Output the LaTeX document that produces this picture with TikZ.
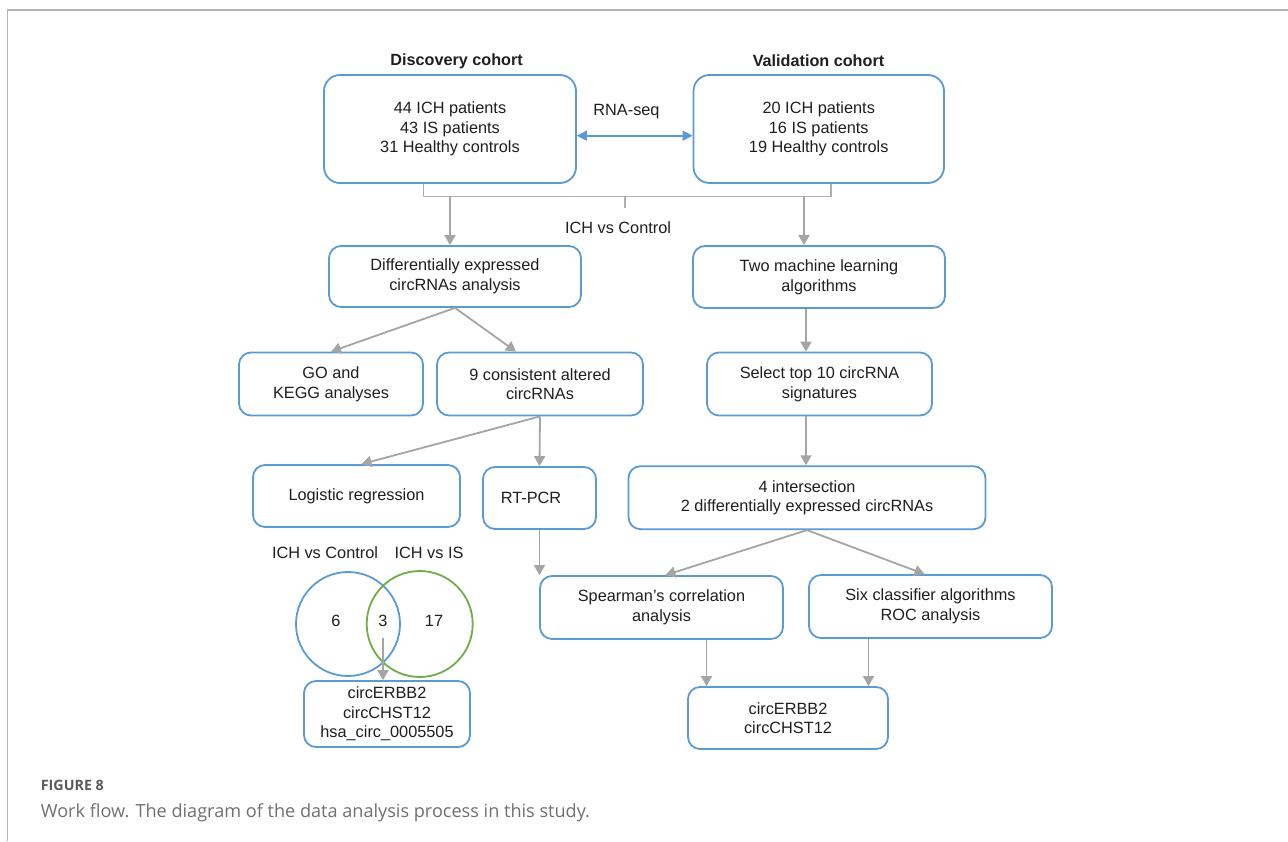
\documentclass[tikz,border=0pt]{standalone}
\usepackage{fontspec}
\setmainfont{Liberation Sans}
\newfontfamily\capfont{Open Sans}
\usetikzlibrary{arrows.meta,calc}
\definecolor{boxblue}{HTML}{5B9BD5}
\definecolor{arrgray}{HTML}{A5A5A5}
\definecolor{bracegray}{HTML}{B0B0B0}
\definecolor{venngreen}{HTML}{70AD47}
\definecolor{txt}{HTML}{1F1F1F}
\definecolor{framegray}{HTML}{B4B4B4}
\definecolor{capgray}{HTML}{707070}
\definecolor{capdark}{HTML}{5A5A5A}
\begin{document}
\begin{tikzpicture}[x=1pt,y=-1pt,
  box/.style={draw=boxblue, line width=1.8pt, rounded corners=12pt, align=center, inner sep=0pt, text=txt, font=\fontsize{16.3}{19.6}\selectfont},
  bigbox/.style={box, rounded corners=16pt},
  arr/.style={draw=arrgray, line width=1.8pt, -{Triangle[length=10pt,width=11pt]}},
  dblarr/.style={draw=boxblue, line width=1.8pt, {Triangle[length=10pt,width=10pt]}-{Triangle[length=10pt,width=10pt]}},
  lbl/.style={text=txt, font=\fontsize{16.3}{19.6}\selectfont, inner sep=0pt},
  ttl/.style={text=txt, font=\fontsize{16.2}{19.5}\selectfont\bfseries, inner sep=0pt},
  brace/.style={draw=bracegray, line width=1.5pt},
  venn/.style={circle, line width=1.8pt, inner sep=0pt},
]
\useasboundingbox (0,0) rectangle (1288,841);
\fill[white] (0,0) rectangle (1288,841);
\draw[framegray, line width=1.3pt] (7.3,841) -- (7.3,10) -- (1288,10);

% titles
\node[ttl] (t1) at (456.6,61) {Discovery cohort};
\node[ttl] (t2) at (818.5,61) {Validation cohort};

% cohort boxes
\node[bigbox, minimum width=252pt, minimum height=108pt] (D1) at (450,129) {44 ICH patients\\43 IS patients\\31 Healthy controls};
\node[bigbox, minimum width=250.5pt, minimum height=108pt] (V1) at (818.75,129) {20 ICH patients\\16 IS patients\\19 Healthy controls};
\node[lbl] (rs) at (626.5,111.7) {RNA-seq};
\draw[dblarr] ([yshift=-6.7pt]D1.east) -- ([yshift=-6.7pt]V1.west);

% bracket
\coordinate (bl) at (423.3,196.7);
\coordinate (br) at (831,196.7);
\coordinate (bm) at (625,196.7);
\coordinate (ba) at (450,196.7);
\coordinate (bb) at (804,196.7);
\draw[brace] (D1.south -| bl) -- (bl) -- (br) -- (V1.south -| br);
\draw[brace] (bm) -- ++(0,11);
\node[lbl] (ic) at (618,228) {ICH vs Control};

% second row
\node[box, minimum width=252pt, minimum height=61pt] (D2) at (455,276.5) {Differentially expressed\\circRNAs analysis};
\node[box, minimum width=252pt, minimum height=62pt] (V2) at (819,277) {Two machine learning\\algorithms};
\draw[arr] (ba) -- (ba |- D2.north);
\draw[arr] (bb) -- (bb |- V2.north);

% third row
\node[box, minimum width=184pt, minimum height=63pt] (GO) at (331,384) {GO and\\KEGG analyses};
\node[box, minimum width=206pt, minimum height=63pt] (C9) at (540,384) {9 consistent altered\\circRNAs};
\node[box, minimum width=225pt, minimum height=63pt] (V3) at (819.5,384) {Select top 10 circRNA\\signatures};

% fourth row
\node[box, minimum width=207pt, minimum height=62pt] (LR) at (356.5,496) {Logistic regression};
\node[box, minimum width=113pt, minimum height=62pt] (RT) at (539.5,498) {RT-PCR\hspace*{17pt}};
\node[box, minimum width=357pt, minimum height=63pt] (V4) at (807,497.7) {4 intersection\\2 differentially expressed circRNAs};

% fifth row
\node[box, minimum width=243pt, minimum height=63pt] (SP) at (661.5,607.5) {Spearman’s correlation\\analysis};
\node[box, minimum width=243pt, minimum height=63pt] (SIX) at (930.5,606.5) {Six classifier algorithms\\ROC analysis};

% final
\node[box, minimum width=200pt, minimum height=62pt] (FIN) at (788,718) {circERBB2\\circCHST12};

% venn
\node[venn, draw=boxblue, minimum size=104pt] (vA) at (348,624) {};
\node[venn, draw=venngreen, minimum size=106pt] (vB) at (419.7,624) {};
\node[lbl] (lA) at (325,553) {ICH vs Control};
\node[lbl] (lB) at (429,553) {ICH vs IS};
\node[lbl] (n6) at (336,620.5) {6};
\node[lbl] (n3) at (383,620.5) {3};
\node[lbl] (n17) at (434,620.5) {17};
\node[box, minimum width=166pt, minimum height=66pt] (VB) at (387,714) {circERBB2\\circCHST12\\hsa\_circ\_0005505};
\coordinate (a3) at (383,638);
\draw[arr] (a3) -- (a3 |- VB.north);

% arrows
\coordinate (cx) at (806,0);
\draw[arr] (D2.south) -- (GO.north);
\draw[arr] (D2.south) -- ([xshift=-24pt]C9.north);
\draw[arr] (C9.south) -- ([xshift=5pt]LR.north);
\draw[arr] (C9.south) -- (RT.north);
\draw[arr] (V2.south -| cx) -- (V3.north -| cx);
\draw[arr] (V3.south -| cx) -- (V4.north -| cx);
\draw[arr] (RT.south) -- (RT.south |- SP.north);
\draw[arr] (V4.south) -- ([xshift=4pt]SP.north);
\draw[arr] (V4.south) -- ([xshift=-6pt]SIX.north);
\draw[arr] ([xshift=45pt]SP.south) -- ([xshift=45pt]SP.south |- FIN.north);
\draw[arr] ([xshift=-62pt]SIX.south) -- ([xshift=-62pt]SIX.south |- FIN.north);

% caption
\node[anchor=base west, inner sep=0pt, text=capdark] (cap1) at (40.7,790.7) {\resizebox{63pt}{!}{\capfont\bfseries FIGURE 8}};
\node[anchor=base west, inner sep=0pt, text=capgray] (cap2) at (40.7,817) {\resizebox{549pt}{!}{\capfont Work flow. The diagram of the data analysis process in this study.}};
\end{tikzpicture}
\end{document}
